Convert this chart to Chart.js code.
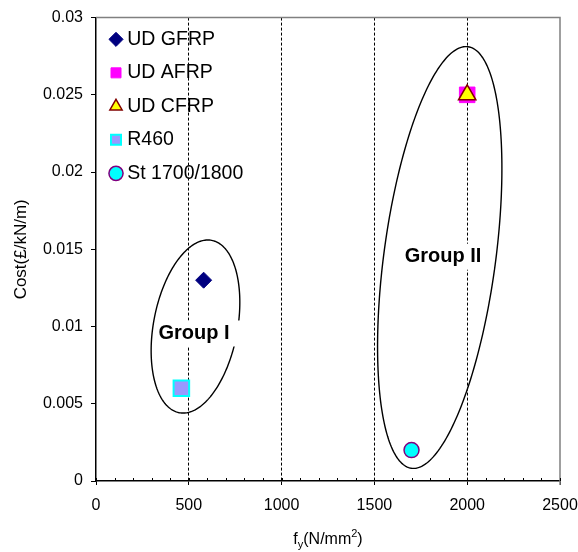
<!DOCTYPE html>
<html>
<head>
<meta charset="utf-8">
<script src="https://cdn.jsdelivr.net/npm/chart.js@4.4.0/dist/chart.umd.min.js"></script>
<style>
html,body{margin:0;padding:0;background:#fff;}
#wrap{width:578px;height:552px;position:relative;}
</style>
</head>
<body>
<div id="wrap"><canvas id="c"></canvas></div>
<script>
// ---- data ----
const seriesNames = ['UD GFRP', 'UD AFRP', 'UD CFRP', 'R460', 'St 1700/1800'];
const fyValues   = [580, 2000, 2000, 460, 1700];      // N/mm2
const costValues = [0.013, 0.025, 0.025, 0.006, 0.002]; // £/kN/m
const xTicks = [0, 500, 1000, 1500, 2000, 2500];
const yTicks = [0, 0.005, 0.01, 0.015, 0.02, 0.025, 0.03];
const groupLabels = ['Group I', 'Group II'];

// ---- styling ----
const FONT = '"Liberation Sans", Arial, sans-serif';
const markerStyles = [
  {pointStyle:'rectRot',  radius:8,  bg:'#000080', border:'#000080', bw:1},
  {pointStyle:'rect',     radius:11, bg:'#FF00FF', border:'#FF00FF', bw:1},
  {pointStyle:'triangle', radius:10, bg:'#FFFF00', border:'#800000', bw:1.5},
  {pointStyle:'rect',     radius:11, bg:'#9999FF', border:'#00FFFF', bw:2},
  {pointStyle:'circle',   radius:7.5,bg:'#00FFFF', border:'#800080', bw:1.5}
];
const drawOrder = [0, 1, 0, 0, 0]; // AFRP square sits below the CFRP triangle

// group ellipses in data units: centre, two semi-axis vectors, label position
const groupShapes = [
  {cx:536,  cy:0.0100,  ux:87,  uy:0.00558,  vx:222.5, vy:-0.000499, tx:528,  ty:0.00955},
  {cx:1852, cy:0.01447, ux:152, uy:0.013645, vx:298.5, vy:-0.000477, tx:1870, ty:0.01452}
];

Chart.defaults.font.family = FONT;
Chart.defaults.color = '#000';

const datasets = seriesNames.map((name, i) => ({
  label: name,
  data: [{x: fyValues[i], y: costValues[i]}],
  pointStyle: markerStyles[i].pointStyle,
  pointRadius: markerStyles[i].radius,
  pointHoverRadius: markerStyles[i].radius,
  backgroundColor: markerStyles[i].bg,
  borderColor: markerStyles[i].border,
  borderWidth: markerStyles[i].bw,
  pointBorderWidth: markerStyles[i].bw,
  order: drawOrder[i],
  showLine: false
}));

const framePlugin = {
  id: 'frame',
  afterLayout(chart) {
    // place the in-plot legend at the top-left of the plotting area
    const lg = chart.legend;
    if (lg) {
      const h = lg.bottom - lg.top;
      lg.top = chart.chartArea.top - 2;
      lg.bottom = lg.top + h;
      lg.left = chart.chartArea.left + 4.5;
    }
  },
  beforeDatasetsDraw(chart) {
    const {ctx, chartArea: a, scales} = chart;
    const xs = scales.x, ys = scales.y;
    ctx.save();
    // grey top/right frame
    ctx.strokeStyle = '#808080';
    ctx.lineWidth = 1.5;
    ctx.beginPath();
    ctx.moveTo(a.left, a.top);
    ctx.lineTo(a.right, a.top);
    ctx.lineTo(a.right, a.bottom + 4);
    ctx.stroke();
    // minor ticks on x axis every 100
    ctx.strokeStyle = '#000';
    ctx.lineWidth = 1;
    ctx.beginPath();
    for (let v = xs.min; v <= xs.max; v += 100) {
      const px = Math.round(xs.getPixelForValue(v)) + 0.5;
      ctx.moveTo(px, a.bottom);
      ctx.lineTo(px, a.bottom - 3);
    }
    ctx.stroke();
    // ellipses
    ctx.lineWidth = 1.4;
    groupShapes.forEach(g => {
      ctx.beginPath();
      for (let k = 0; k <= 240; k++) {
        const t = k / 240 * Math.PI * 2;
        const dx = g.cx + g.ux * Math.cos(t) + g.vx * Math.sin(t);
        const dy = g.cy + g.uy * Math.cos(t) + g.vy * Math.sin(t);
        const px = xs.getPixelForValue(dx), py = ys.getPixelForValue(dy);
        if (k === 0) ctx.moveTo(px, py); else ctx.lineTo(px, py);
      }
      ctx.closePath();
      ctx.stroke();
    });
    // group labels with white box
    ctx.font = 'bold 20px ' + FONT;
    ctx.textBaseline = 'middle';
    ctx.textAlign = 'center';
    groupShapes.forEach((g, i) => {
      const px = xs.getPixelForValue(g.tx), py = ys.getPixelForValue(g.ty);
      const w = ctx.measureText(groupLabels[i]).width;
      ctx.fillStyle = '#fff';
      ctx.fillRect(px - w / 2 - 2, py - 13, w + 14, 26);
      ctx.fillStyle = '#000';
      ctx.fillText(groupLabels[i], px, py);
    });
    ctx.restore();
  },
  afterDraw(chart) {
    const {ctx, chartArea: a} = chart;
    // x axis title: f_y(N/mm^2)
    ctx.save();
    ctx.fillStyle = '#000';
    ctx.textBaseline = 'alphabetic';
    ctx.textAlign = 'left';
    const big = '16px ' + FONT, small = '11px ' + FONT;
    const parts = [
      {t:'f', f:big, dy:0}, {t:'y', f:small, dy:4}, {t:'(N/mm', f:big, dy:0},
      {t:'2', f:small, dy:-7}, {t:')', f:big, dy:0}
    ];
    let total = 0;
    parts.forEach(p => { ctx.font = p.f; p.w = ctx.measureText(p.t).width; total += p.w; });
    let x = (a.left + a.right) / 2 - total / 2;
    const base = 544;
    parts.forEach(p => { ctx.font = p.f; ctx.fillText(p.t, x, base + p.dy); x += p.w; });
    ctx.restore();
  }
};

new Chart(document.getElementById('c'), {
  type: 'scatter',
  data: { datasets },
  options: {
    responsive: true,
    maintainAspectRatio: false,
    animation: false,
    events: [],
    layout: { padding: {left: 0, top: 16, right: 0, bottom: 0} },
    plugins: {
      tooltip: {enabled: false},
      legend: {
        position: 'chartArea',
        align: 'start',
        labels: {
          usePointStyle: true,
          boxWidth: 3,
          boxHeight: 10,
          padding: 14,
          font: {size: 19.5},
          color: '#000',
          sort: (a, b) => a.datasetIndex - b.datasetIndex
        }
      }
    },
    scales: {
      x: {
        type: 'linear',
        min: xTicks[0],
        max: xTicks[xTicks.length - 1],
        afterBuildTicks: s => { s.ticks = xTicks.map(v => ({value: v})); },
        afterFit: s => { s.height = 71; s.paddingRight = 18; s.paddingLeft = 0; },
        ticks: {font: {size: 16}, color: '#000', padding: 11, maxRotation: 0, autoSkip: false, callback: v => String(v)},
        grid: {
          drawOnChartArea: true,
          color: c => (c.tick && c.tick.value > xTicks[0] && c.tick.value < xTicks[xTicks.length - 1]) ? '#000' : 'rgba(0,0,0,0)',
          tickColor: '#000',
          tickLength: 4,
          lineWidth: 1
        },
        border: {display: true, color: '#000', width: 1.5, dash: [3, 2]}
      },
      y: {
        type: 'linear',
        min: yTicks[0],
        max: yTicks[yTicks.length - 1],
        afterBuildTicks: s => { s.ticks = yTicks.map(v => ({value: v})); },
        afterFit: s => { s.width = 96; },
        ticks: {font: {size: 16}, color: '#000', padding: 8, callback: v => String(+(+v).toFixed(3))},
        grid: {drawOnChartArea: false, tickColor: '#000', tickLength: 5, lineWidth: 1},
        border: {display: true, color: '#000', width: 1.5},
        title: {display: true, text: 'Cost(£/kN/m)', font: {size: 17}, color: '#000', padding: {top: 11, bottom: 0}}
      }
    }
  },
  plugins: [framePlugin]
});
</script>
</body>
</html>
